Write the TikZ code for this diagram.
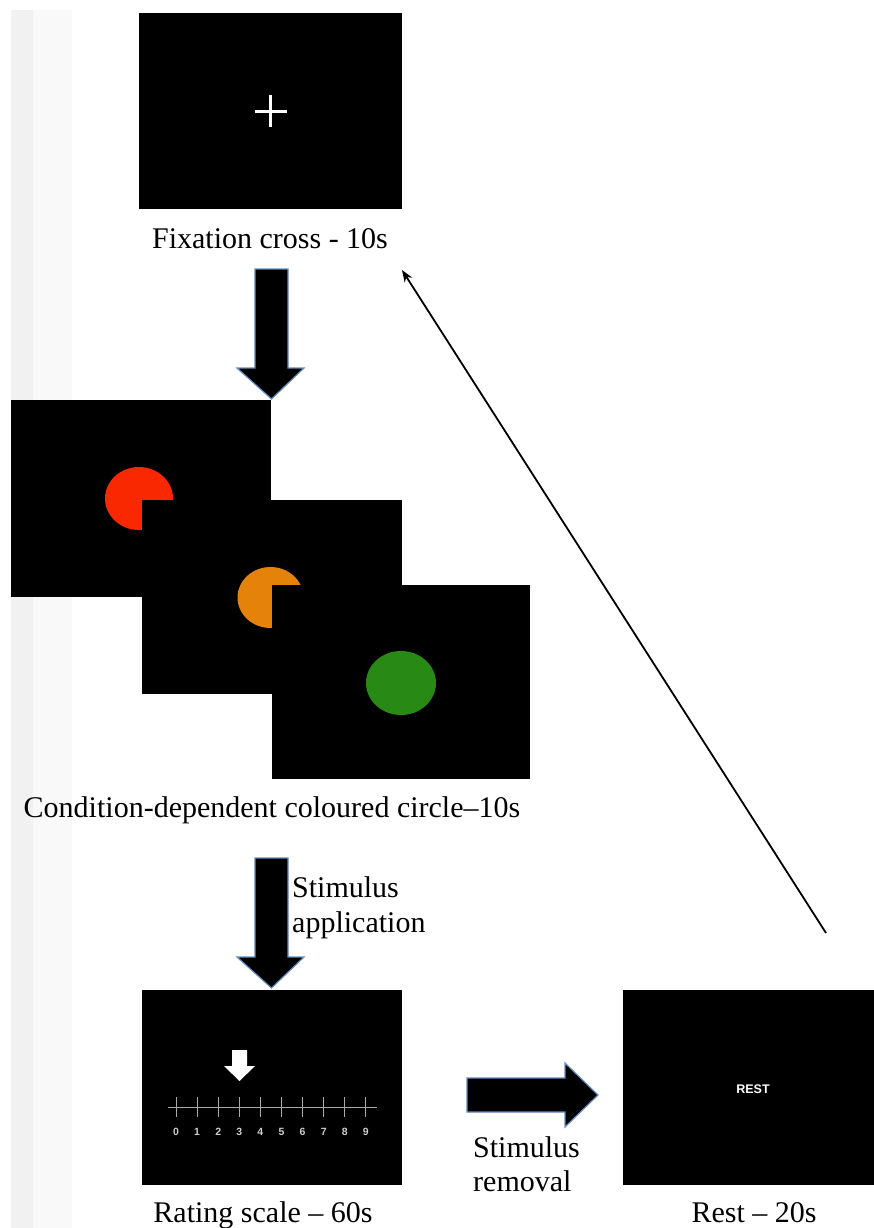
\documentclass[tikz,border=0pt]{standalone}
\usepackage{fontspec}
\setmainfont{Liberation Serif}
\newfontfamily\sansf{Liberation Sans}
\usetikzlibrary{arrows.meta}
\definecolor{glow}{RGB}{100,140,190}
\definecolor{redc}{RGB}{249,40,0}
\definecolor{orangec}{RGB}{229,130,10}
\definecolor{greenc}{RGB}{40,138,20}
\definecolor{stripA}{RGB}{241,241,241}
\definecolor{stripB}{RGB}{249,249,249}
\definecolor{scalec}{RGB}{170,170,170}
\definecolor{numc}{RGB}{205,205,205}
\begin{document}
\begin{tikzpicture}[x=1pt,y=-1pt,
  screen/.style={fill=black, draw=none, inner sep=0, anchor=north west},
  lbl/.style={font=\fontsize{30}{35}\selectfont, inner sep=0},
  blockarrow/.style={fill=black, draw=glow, line width=1.2pt, line join=miter},
  scaleline/.style={draw=scalec, line width=1pt},
  num/.style={text=numc, font=\sansf\bfseries\fontsize{10.5}{12}\selectfont, inner sep=0}]
\useasboundingbox (0,0) rectangle (874,1228);
\fill[white] (0,0) rectangle (874,1228);
% left strip
\fill[stripA] (11,10) rectangle (33,1228);
\fill[stripB] (33,10) rectangle (72,1228);

% fixation screen
\node[screen, minimum width=263, minimum height=196] (fix) at (139,13) {};
\draw[white, line width=3pt] ([xshift=-16pt]fix.center) -- ([xshift=16pt]fix.center);
\draw[white, line width=3pt] ([yshift=-16pt]fix.center) -- ([yshift=16pt]fix.center);
\node[lbl, anchor=base] (fixlbl) at (270,248) {Fixation cross - 10s};

% arrow 1
\draw[blockarrow] (255,269) -- (288,269) -- (288,368) -- (304,368) -- (271.5,399)
  -- (237,368) -- (255,368) -- cycle;

% condition screens
\node[screen, minimum width=260, minimum height=197] (red) at (11,400) {};
\fill[redc] (139,498.5) ellipse [x radius=34, y radius=31.5];
\node[screen, minimum width=260, minimum height=194] (orange) at (142,500) {};
\fill[orangec] (270.5,597.5) ellipse [x radius=33, y radius=30.5];
\node[screen, minimum width=258, minimum height=194] (green) at (272,585) {};
\fill[greenc] (401,683) ellipse [x radius=35, y radius=32];
\node[lbl, anchor=base] (condlbl) at (272,817) {Condition-dependent coloured circle--10s};

% arrow 2
\draw[blockarrow] (255,858) -- (288,858) -- (288,957) -- (304,957) -- (271.5,988)
  -- (237,957) -- (255,957) -- cycle;
\node[lbl, anchor=base west] (app1) at (292,897) {Stimulus};
\node[lbl, anchor=base west] (app2) at (292,932) {application};

% rating screen
\node[screen, minimum width=260, minimum height=195] (rating) at (142,990) {};
\fill[white] (232,1050) -- (247,1050) -- (247,1066) -- (255,1066) -- (239.5,1081)
  -- (224,1066) -- (232,1066) -- cycle;
\draw[scaleline] (168,1107) -- (377,1107);
\foreach \i in {0,...,9} {
  \draw[scaleline] (176+21.1*\i,1097) -- (176+21.1*\i,1117);
  \node[num] at (176+21.1*\i,1132) {\i};
}
\node[lbl, anchor=base] (ratlbl) at (263,1222) {Rating scale -- 60s};

% arrow 3
\draw[blockarrow] (467,1078) -- (565,1078) -- (565,1063) -- (598,1095)
  -- (565,1127) -- (565,1112) -- (467,1112) -- cycle;
\node[lbl, anchor=base west] (rem1) at (473,1157) {Stimulus};
\node[lbl, anchor=base west] (rem2) at (473,1191) {removal};

% rest screen
\node[screen, minimum width=251, minimum height=195] (rest) at (623,990) {};
\node[text=white, font=\sansf\bfseries\fontsize{12.5}{14}\selectfont, inner sep=0] (resttxt) at (753,1089) {REST};
\node[lbl, anchor=base] (restlbl) at (754,1222) {Rest -- 20s};

% return arrow
\coordinate (rs) at (826,933);
\coordinate (re) at (402,270);
\draw[line width=1.8pt, -{Stealth[length=12pt,width=9pt]}] (rs) -- (re);
\end{tikzpicture}
\end{document}
